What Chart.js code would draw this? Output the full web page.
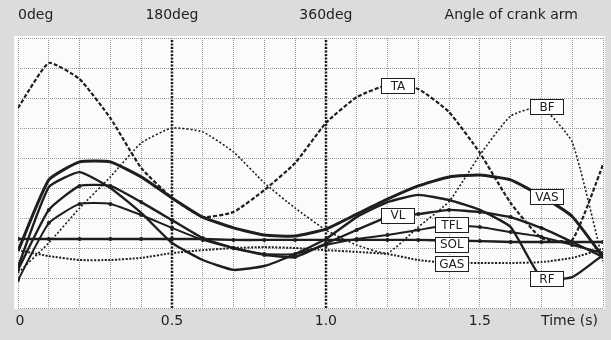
<!DOCTYPE html>
<html>
<head>
<meta charset="utf-8">
<script src="https://cdn.jsdelivr.net/npm/chart.js@4.4.0/dist/chart.umd.min.js"></script>
<style>
  html, body { margin: 0; padding: 0; background: #dcdcdc; }
  #wrap { width: 611px; height: 340px; }
</style>
</head>
<body>
<div id="wrap"><canvas id="canvas" width="611" height="340"></canvas></div>
<script>
// time samples (s), one every 0.1 s
const timeS = [0, 0.1, 0.2, 0.3, 0.4, 0.5, 0.6, 0.7, 0.8, 0.9, 1.0, 1.1, 1.2, 1.3, 1.4, 1.5, 1.6, 1.7, 1.8, 1.9];

// muscle activity (grid units)
const TA = [6.67, 8.17, 7.63, 6.33, 4.67, 3.67, 3.03, 3.2, 3.93, 4.83, 6.17, 7.03, 7.43, 7.3, 6.53, 5.17, 3.5, 2.33, 2.27, 4.77];
const BF = [1.17, 2.17, 3.33, 4.37, 5.5, 6.0, 5.87, 5.2, 4.17, 3.33, 2.6, 2.1, 1.83, 2.7, 3.55, 5.1, 6.4, 6.7, 5.53, 1.55];
const VAS = [1.9, 4.27, 4.87, 4.87, 4.37, 3.67, 3.03, 2.67, 2.43, 2.4, 2.63, 3.13, 3.63, 4.07, 4.37, 4.43, 4.27, 3.73, 3.05, 1.7];
const VL = [1.27, 3.27, 4.07, 4.07, 3.53, 2.93, 2.33, 2.0, 1.77, 1.7, 2.15, 2.6, 3.03, 3.13, 3.27, 3.2, 3.03, 2.67, 2.2, 1.7];
const TFL = [0.93, 2.83, 3.47, 3.47, 3.1, 2.67, 2.27, 2.0, 1.8, 1.8, 2.1, 2.3, 2.43, 2.6, 2.77, 2.7, 2.53, 2.37, 2.1, 1.83];
const SOL = [2.3, 2.3, 2.3, 2.3, 2.3, 2.3, 2.3, 2.27, 2.27, 2.27, 2.27, 2.27, 2.27, 2.27, 2.25, 2.23, 2.2, 2.2, 2.2, 2.2];
const GAS = [1.93, 1.73, 1.6, 1.6, 1.67, 1.83, 1.93, 2.0, 2.03, 2.0, 1.93, 1.87, 1.8, 1.6, 1.5, 1.5, 1.5, 1.53, 1.67, 1.97];
const RF = [1.37, 4.03, 4.53, 4.0, 3.17, 2.17, 1.6, 1.27, 1.4, 1.8, 2.3, 3.03, 3.53, 3.77, 3.6, 3.27, 2.7, 1.0, 1.03, 1.77];

// tick labels
const timeTicks = [0, 0.5, 1.0, 1.5];
const timeTickText = ["0", "0.5", "1.0", "1.5"];
const angleTicks = [0, 0.5, 1.0];
const angleTickText = ["0deg", "180deg", "360deg"];

// name boxes sitting on the curves: [name, time, value]
const curveNames = [
  ["TA", 1.234, 7.42],
  ["BF", 1.718, 6.72],
  ["VAS", 1.718, 3.72],
  ["VL", 1.234, 3.1],
  ["TFL", 1.409, 2.77],
  ["SOL", 1.409, 2.13],
  ["GAS", 1.409, 1.48],
  ["RF", 1.718, 0.98],
];

const FONT = "DejaVu Sans, Noto Sans, sans-serif";
const INK = "#1e1e1e";

function series(label, values, width, dash, points) {
  return {
    label: label,
    data: values.map((v, i) => ({ x: timeS[i], y: v })),
    borderColor: INK,
    backgroundColor: INK,
    borderWidth: width,
    borderDash: dash,
    pointRadius: points ? 2 : 0,
    pointBorderWidth: 0,
    tension: 0.15,
    fill: false,
  };
}

// paper colours, crank marks and texts
const paperPlugin = {
  id: "paper",
  beforeDraw(chart) {
    const { ctx, chartArea: a } = chart;
    ctx.save();
    ctx.fillStyle = "#dcdcdc";
    ctx.fillRect(0, 0, chart.width, chart.height);
    ctx.fillStyle = "#fbfbfb";
    ctx.fillRect(a.left - 4, a.top - 2, a.right - a.left + 6, a.bottom - a.top + 3);
    ctx.restore();
  },
  afterDatasetsDraw(chart) {
    const { ctx, chartArea: a } = chart;
    const xs = chart.scales.x;
    const ys = chart.scales.y;
    ctx.save();

    // crank angle marks at 180 and 360 deg
    ctx.strokeStyle = INK;
    ctx.lineWidth = 2.5;
    ctx.setLineDash([2, 1.5]);
    [0.5, 1.0].forEach((t) => {
      const px = Math.round(xs.getPixelForValue(t));
      ctx.beginPath();
      ctx.moveTo(px, a.top + 2);
      ctx.lineTo(px, a.bottom);
      ctx.stroke();
    });
    ctx.setLineDash([]);

    // name boxes
    ctx.font = "12px " + FONT;
    ctx.textAlign = "center";
    ctx.textBaseline = "middle";
    curveNames.forEach(([name, t, v]) => {
      const cx = xs.getPixelForValue(t);
      const cy = ys.getPixelForValue(v);
      const w = 33, h = 15;
      ctx.fillStyle = "#ffffff";
      ctx.fillRect(cx - w / 2, cy - h / 2, w, h);
      ctx.strokeStyle = INK;
      ctx.lineWidth = 1;
      ctx.strokeRect(Math.round(cx - w / 2) + 0.5, Math.round(cy - h / 2) + 0.5, w, h);
      ctx.fillStyle = INK;
      ctx.fillText(name, cx, cy + 1);
    });

    // bottom time labels
    ctx.font = "14px " + FONT;
    ctx.fillStyle = "#222222";
    ctx.textBaseline = "middle";
    timeTicks.forEach((t, i) => {
      ctx.textAlign = "center";
      ctx.fillText(timeTickText[i], xs.getPixelForValue(t) + (i === 0 ? 2 : 0), 321);
    });
    ctx.textAlign = "right";
    ctx.fillText("Time (s)", 598, 321);

    // top crank angle labels
    angleTicks.forEach((t, i) => {
      ctx.textAlign = i === 0 ? "left" : "center";
      ctx.fillText(angleTickText[i], xs.getPixelForValue(t), 15);
    });
    ctx.textAlign = "right";
    ctx.fillText("Angle of crank arm", 578, 15);

    ctx.restore();
  },
};

const ctx = document.getElementById("canvas").getContext("2d");

new Chart(ctx, {
  type: "line",
  data: {
    datasets: [
      series("TA", TA, 2.2, [4, 2], false),
      series("BF", BF, 1.6, [2, 2], false),
      series("VAS", VAS, 3, [], false),
      series("VL", VL, 2.4, [], true),
      series("TFL", TFL, 2, [], true),
      series("SOL", SOL, 2.4, [], true),
      series("GAS", GAS, 2, [2, 1.5], false),
      series("RF", RF, 2.4, [], false),
    ],
  },
  options: {
    responsive: false,
    animation: false,
    devicePixelRatio: 1,
    layout: { padding: { left: 18, right: 8, top: 38, bottom: 32 } },
    plugins: {
      legend: { display: false },
      tooltip: { enabled: false },
    },
    scales: {
      x: {
        type: "linear",
        min: 0,
        max: 1.9,
        afterFit(scale) { scale.height = 0; },
        ticks: { display: false, stepSize: 0.1 },
        grid: { color: "#999999", lineWidth: 1, drawTicks: false },
        border: { display: false, dash: [1, 1] },
      },
      y: {
        min: 0,
        max: 9,
        afterFit(scale) { scale.width = 0; },
        ticks: { display: false, stepSize: 1 },
        grid: { color: "#999999", lineWidth: 1, drawTicks: false },
        border: { display: false, dash: [1, 1] },
      },
    },
  },
  plugins: [paperPlugin],
});
</script>
</body>
</html>
